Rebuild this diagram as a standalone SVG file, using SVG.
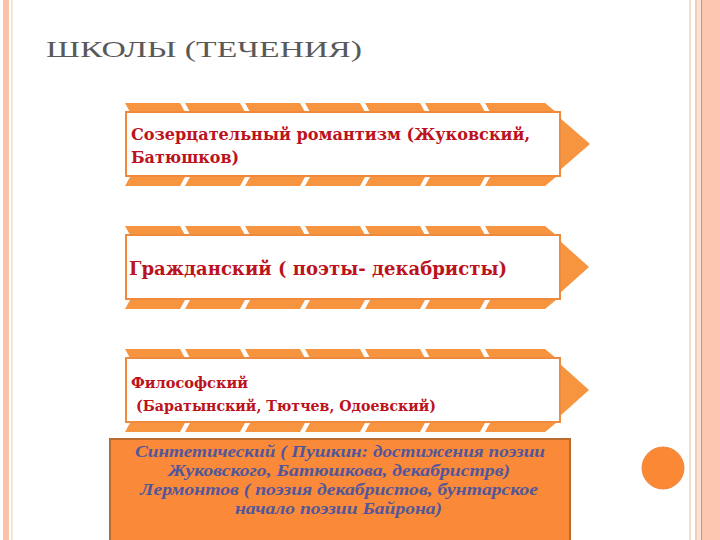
<svg xmlns="http://www.w3.org/2000/svg" width="720" height="540" viewBox="0 0 720 540">
<style>
.stripe{fill:#F79440}
.box{fill:#FFFFFF;stroke:#EE8A3E;stroke-width:2}
.arrow{fill:#F79440}
.t{font-family:"DejaVu Serif","Liberation Serif",serif;font-weight:bold;fill:#BC121C}
.s{font-family:"Liberation Serif","DejaVu Serif",serif;font-style:italic;font-weight:bold;fill:#51569A;text-anchor:start}
</style>
<defs>
<g id="topRow">
<polygon class="stripe" points="125,0 180,0 185,9 130,9"/>
<polygon class="stripe" points="185,0 240,0 245,9 190,9"/>
<polygon class="stripe" points="245,0 300,0 305,9 250,9"/>
<polygon class="stripe" points="305,0 360,0 365,9 310,9"/>
<polygon class="stripe" points="365,0 420,0 425,9 370,9"/>
<polygon class="stripe" points="425,0 480,0 485,9 430,9"/>
<polygon class="stripe" points="485,0 545,0 556,9 490,9"/>
</g>
<g id="botRow">
<polygon class="stripe" points="130,0 185,0 180,9 125,9"/>
<polygon class="stripe" points="190,0 245,0 240,9 185,9"/>
<polygon class="stripe" points="250,0 305,0 300,9 245,9"/>
<polygon class="stripe" points="310,0 365,0 360,9 305,9"/>
<polygon class="stripe" points="370,0 425,0 420,9 365,9"/>
<polygon class="stripe" points="430,0 485,0 480,9 425,9"/>
<polygon class="stripe" points="490,0 556,0 545,9 485,9"/>
</g>
</defs>
<rect x="0" y="0" width="720" height="540" fill="#FFFFFF"/>
<!-- left border -->
<rect x="3" y="0" width="6" height="540" fill="#FCC3A8"/>
<rect x="11" y="0" width="1.5" height="540" fill="#F6DCCD"/>
<!-- right border -->
<rect x="689" y="0" width="2" height="540" fill="#F2DCCB"/>
<rect x="695" y="0" width="2.5" height="540" fill="#F1CDB6"/>
<rect x="697.5" y="0" width="3.5" height="540" fill="#FBE1D4"/>
<rect x="701" y="0" width="1.5" height="540" fill="#EC8C62"/>
<rect x="702.5" y="0" width="17.5" height="540" fill="#FDC6B1"/>
<circle cx="663" cy="468" r="21" fill="#FA8834" stroke="#E98A45" stroke-width="1"/>

<text x="46" y="57" font-family="Liberation Serif, serif" font-size="24" fill="#595959" textLength="316" lengthAdjust="spacingAndGlyphs">ШКОЛЫ (ТЕЧЕНИЯ)</text>

<g id="node1">
<use href="#topRow" y="103"/>
<use href="#botRow" y="177"/>
<polygon class="arrow" points="560,118 590,144 560,170"/>
<rect class="box" x="126" y="112" width="434" height="64"/>
<text class="t" x="131" y="140" font-size="16" textLength="399" lengthAdjust="spacingAndGlyphs">Созерцательный романтизм (Жуковский,</text>
<text class="t" x="131" y="163" font-size="16" textLength="108" lengthAdjust="spacingAndGlyphs">Батюшков)</text>
</g>

<g id="node2">
<use href="#topRow" y="226"/>
<use href="#botRow" y="300"/>
<polygon class="arrow" points="560,241 589,267 560,293"/>
<rect class="box" x="126" y="235" width="434" height="64"/>
<text class="t" x="129" y="275" font-size="19" textLength="378" lengthAdjust="spacingAndGlyphs">Гражданский ( поэты- декабристы)</text>
</g>

<g id="node3">
<use href="#topRow" y="349"/>
<use href="#botRow" y="423"/>
<polygon class="arrow" points="560,364 589,390 560,416"/>
<rect class="box" x="126" y="358" width="434" height="64"/>
<text class="t" x="131" y="388" font-size="15" textLength="117" lengthAdjust="spacingAndGlyphs">Философский</text>
<text class="t" x="136" y="411" font-size="15" textLength="300" lengthAdjust="spacingAndGlyphs">(Баратынский, Тютчев, Одоевский)</text>
</g>

<g id="node4">
<rect x="110" y="439" width="460" height="110" fill="#FA8A3A" stroke="#B96B2E" stroke-width="2"/>
<text class="s" x="135" y="457" font-size="16" textLength="410" lengthAdjust="spacingAndGlyphs">Синтетический ( Пушкин: достижения поэзии</text>
<text class="s" x="168" y="476" font-size="16" textLength="342" lengthAdjust="spacingAndGlyphs">Жуковского, Батюшкова, декабристрв)</text>
<text class="s" x="140" y="495" font-size="16" textLength="398" lengthAdjust="spacingAndGlyphs">Лермонтов ( поэзия декабристов, бунтарское</text>
<text class="s" x="235" y="514" font-size="16" textLength="207" lengthAdjust="spacingAndGlyphs">начало поэзии Байрона)</text>
</g>
</svg>
